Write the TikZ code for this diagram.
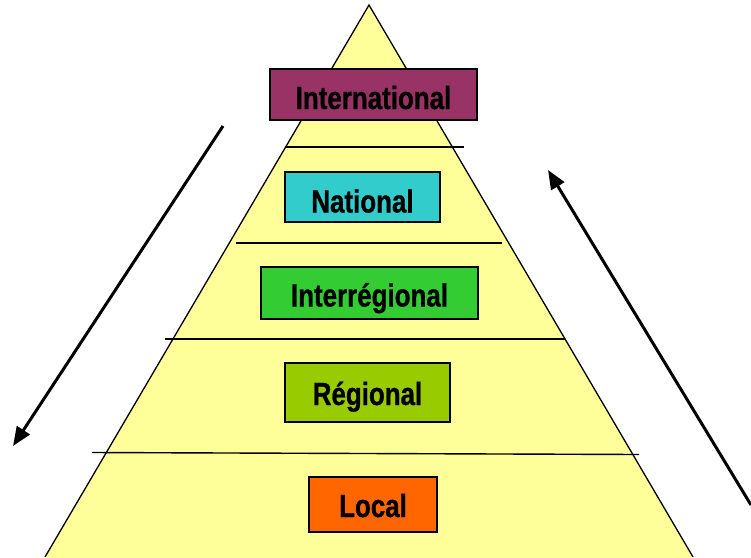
\documentclass[tikz,border=0pt]{standalone}
\usepackage{fontspec}
\newfontfamily\labfont{Liberation Sans}[FakeStretch=0.81, BoldFeatures={FakeBold=0.8}]
\usetikzlibrary{arrows.meta}
\definecolor{pyr}{HTML}{FFFF99}
\definecolor{cintl}{HTML}{993366}
\definecolor{cnat}{HTML}{33CCCC}
\definecolor{cinter}{HTML}{33CC33}
\definecolor{creg}{HTML}{99CC00}
\definecolor{cloc}{HTML}{FF6600}
\tikzset{
  levelbox/.style={draw=black, line width=1.6pt, inner sep=0pt, text height=23pt, text depth=0pt,
    font=\labfont\bfseries\fontsize{32}{38}\selectfont},
  sepline/.style={draw=black, line width=1.4pt},
  bigarrow/.style={draw=black, line width=3pt, -{Triangle[length=19pt,width=15pt]}}
}
\begin{document}
\begin{tikzpicture}[x=1pt,y=-1pt]
\useasboundingbox (0,0) rectangle (751,557);
% pyramid
\coordinate (apex) at (369,5);
\coordinate (bl) at (45,557);
\coordinate (br) at (693,557);
\filldraw[fill=pyr, draw=black, line width=1.3pt, line join=miter] (bl) -- (apex) -- (br);
\fill[pyr] (bl) -- (br) -- (693,560) -- (45,560) -- cycle;
% separator lines
\coordinate (l1a) at (285,147); \coordinate (l1b) at (464,147);
\coordinate (l2a) at (236,243); \coordinate (l2b) at (502,243);
\coordinate (l3a) at (165,339); \coordinate (l3b) at (565,339);
\coordinate (l4a) at (92,452.5); \coordinate (l4b) at (639,454.5);
\draw[sepline] (l1a) -- (l1b);
\draw[sepline] (l2a) -- (l2b);
\draw[sepline] (l3a) -- (l3b);
\draw[sepline] (l4a) -- (l4b);
% level boxes
\node[levelbox, fill=cintl, minimum width=207pt, minimum height=51pt, text height=29pt] (intl) at (373.5,94.5) {International};
\node[levelbox, fill=cnat, minimum width=155pt, minimum height=50pt, text height=31pt] (nat) at (362.5,197) {National};
\node[levelbox, fill=cinter, minimum width=217pt, minimum height=52pt, text height=27pt] (inter) at (369.5,293) {Interrégional};
\node[levelbox, fill=creg, minimum width=165pt, minimum height=59pt, text height=25pt] (reg) at (367.5,392.5) {Régional};
\node[levelbox, fill=cloc, minimum width=128pt, minimum height=55pt, text height=25pt] (loc) at (373,504.5) {Local};
% arrows
\coordinate (la1) at (223,126);
\coordinate (la2) at (13,446);
\coordinate (ra1) at (751,505);
\coordinate (ra2) at (548,170);
\draw[bigarrow] (la1) -- (la2);
\draw[bigarrow] (ra1) -- (ra2);
\end{tikzpicture}
\end{document}
